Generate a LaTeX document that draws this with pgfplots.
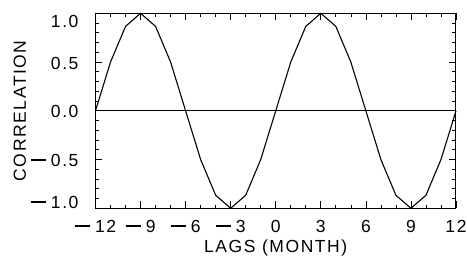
\documentclass[border=0pt]{standalone}
\usepackage{fontspec}
\setmainfont{Liberation Sans}[LetterSpace=9]
\usepackage{pgfplots}
\pgfplotsset{compat=1.18}
\newcommand\mn{\rule[0.33em]{0.85em}{0.075em}\hspace{0.3em}}
\begin{document}
\fontsize{17.5}{20}\selectfont
\begin{tikzpicture}
\useasboundingbox (-95.5pt,-57.7pt) rectangle (371.5pt,208.3pt);
\begin{axis}[
  at={(0,0)}, anchor=south west,
  scale only axis,
  width=360.5pt, height=195pt,
  xmin=-12, xmax=12, ymin=-1, ymax=1,
  xtick={-12,-9,-6,-3,0,3,6,9,12},
  xticklabels={\mn12,\mn9,\mn6,\mn3,0,3,6,9,12},
  ytick={-1,-0.5,0,0.5,1},
  yticklabels={\raisebox{7pt}{\mn1.0},\mn0.5,0.0,0.5,\raisebox{-7pt}{1.0}},
  minor x tick num=2,
  minor y tick num=4,
  tick align=inside,
  major tick length=7pt,
  minor tick length=3.5pt,
  tick style={black, line width=0.7pt},
  axis line style={line width=1pt},
  ticklabel style={font=\fontsize{17.5}{20}\selectfont},
  xticklabel style={anchor=base, yshift=-24pt},
  yticklabel style={anchor=base east, xshift=-11pt, yshift=-7pt},
  label style={font=\fontsize{17.5}{20}\selectfont},
  xlabel={LAGS (MONTH)},
  ylabel={CORRELATION},
  xlabel style={at={(axis description cs:0.5,0)}, anchor=base, yshift=-44.4pt},
  ylabel style={at={(axis description cs:0,0.5)}, anchor=base, yshift=69.5pt},
  xtick pos=both, ytick pos=both,
  xticklabel pos=lower, yticklabel pos=left,
  clip=false,
]
\addplot[black, line width=1.1pt] coordinates {
(-12,0) (-11,0.5) (-10,0.866) (-9,1) (-8,0.866) (-7,0.5) (-6,0) (-5,-0.5) (-4,-0.866) (-3,-1) (-2,-0.866) (-1,-0.5) (0,0) (1,0.5) (2,0.866) (3,1) (4,0.866) (5,0.5) (6,0) (7,-0.5) (8,-0.866) (9,-1) (10,-0.866) (11,-0.5) (12,0)
};
\addplot[black, line width=1.1pt] coordinates {(-12,0) (12,0)};
\end{axis}
\end{tikzpicture}
\end{document}
